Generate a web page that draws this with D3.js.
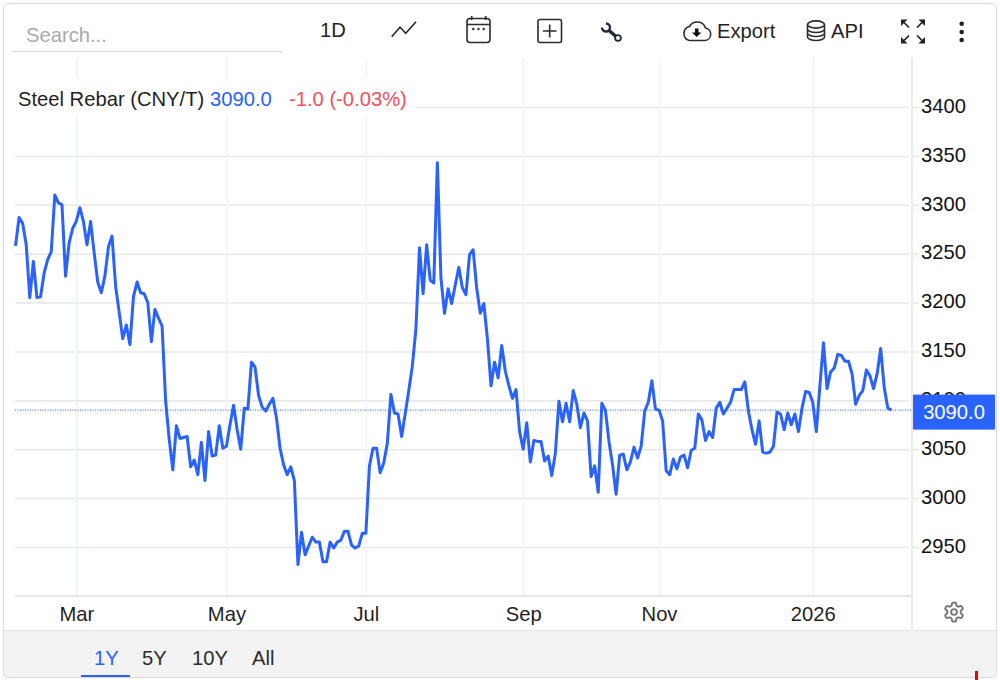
<!DOCTYPE html>
<html lang="en">

<head>
    <meta charset="UTF-8">
    <title>Steel Rebar</title>
    <script src="https://d3js.org/d3.v7.min.js"></script>
    <style>
        html, body { margin: 0; padding: 0; background: white; }
        svg { display: block; }
        text { font-family: "Liberation Sans", Arial, sans-serif; font-size: 20.2px; fill: #1f1f1f; }
        .grid-x line { stroke: #eef3f8; stroke-width: 1.5px; }
        .grid-y line { stroke: #e8e8e8; stroke-width: 1.5px; }
        .grid-x path, .grid-y path, .axis-x path, .axis-x line, .axis-y path { display: none; }
        .axis-y line { stroke: #e6e6e6; stroke-width: 1.5px; }
        .icon { fill: none; stroke: #2b2b2b; stroke-width: 1.6px; }
    </style>
</head>

<body>
    <svg width="1000" height="680"></svg>

    <script>
        const title = "Steel Rebar (CNY/T)";
        const lastLabel = "3090.0";
        const changeLabel = "-1.0 (-0.03%)";
        const monthLabels = ["Mar", "May", "Jul", "Sep", "Nov", "2026"];
        const monthIndex = [17, 59, 98, 142, 180, 223];
        const yTicks = [2950, 3000, 3050, 3100, 3150, 3200, 3250, 3300, 3350, 3400];
        const ranges = ["1Y", "5Y", "10Y", "All"];
        // daily closes
        const prices = [
            3258, 3287, 3281, 3259, 3205, 3242, 3205, 3206, 3230, 3244, 3252, 3310, 3302, 3300, 3227, 3261,
            3276, 3283, 3297, 3283, 3259, 3283, 3251, 3221, 3210, 3227, 3257, 3268, 3217, 3190, 3163, 3177,
            3157, 3206, 3221, 3210, 3209, 3200, 3160, 3193, 3184, 3176, 3099, 3060, 3029, 3074, 3061, 3062,
            3063, 3032, 3039, 3024, 3057, 3018, 3068, 3043, 3044, 3074, 3051, 3053, 3075, 3095, 3070, 3050,
            3092, 3091, 3139, 3134, 3105, 3093, 3089, 3096, 3102, 3082, 3051, 3034, 3024, 3032, 3018, 2932,
            2965, 2942, 2951, 2960, 2955, 2955, 2935, 2935, 2955, 2949, 2955, 2957, 2966, 2966, 2952, 2949,
            2951, 2964, 2964, 3033, 3051, 3051, 3026, 3036, 3056, 3106, 3087, 3086, 3063, 3086, 3110, 3135,
            3173, 3256, 3209, 3259, 3223, 3220, 3343, 3225, 3189, 3214, 3199, 3218, 3236, 3215, 3208, 3249,
            3254, 3215, 3189, 3199, 3163, 3115, 3139, 3123, 3156, 3130, 3115, 3102, 3111, 3068, 3050, 3077,
            3037, 3059, 3058, 3058, 3038, 3043, 3023, 3046, 3099, 3078, 3097, 3078, 3110, 3096, 3072, 3087,
            3079, 3022, 3033, 3006, 3097, 3090, 3058, 3034, 3004, 3044, 3045, 3029, 3037, 3052, 3041, 3053,
            3089, 3098, 3120, 3091, 3090, 3079, 3028, 3024, 3040, 3030, 3042, 3044, 3031, 3049, 3051, 3086,
            3080, 3059, 3068, 3062, 3092, 3098, 3086, 3092, 3098, 3111, 3111, 3111, 3119, 3089, 3070, 3055,
            3079, 3047, 3046, 3047, 3053, 3088, 3086, 3070, 3087, 3075, 3086, 3068, 3092, 3109, 3108, 3098,
            3068, 3115, 3159, 3112, 3129, 3133, 3147, 3146, 3140, 3140, 3127, 3096, 3105, 3110, 3131, 3125,
            3112, 3127, 3153, 3113, 3092, 3090
        ];

        const blue = "#2962ff";
        const svg = d3.select("svg");

        const x = d3.scaleLinear().domain([0, prices.length - 1]).range([15.5, 891.4]);
        const y = d3.scaleLinear().domain([2950, 3400]).range([547, 107]);

        // footer goes first so the frame sits on top of it
        svg.append("rect").attr("x", 3.5).attr("y", 630).attr("width", 993).attr("height", 47).attr("fill", "#f3f3f3");
        svg.append("line").attr("x1", 3).attr("x2", 997).attr("y1", 630.5).attr("y2", 630.5).attr("stroke", "#e6e6e6");

        // grid
        svg.append("g").attr("class", "grid-y")
            .attr("transform", "translate(15,0)")
            .call(d3.axisRight(y).tickValues(yTicks).tickSize(894).tickFormat(""));
        svg.append("g").attr("class", "grid-x")
            .attr("transform", "translate(0,58)")
            .call(d3.axisBottom(x).tickValues(monthIndex).tickSize(537).tickFormat(""));

        // white panel behind the legend
        svg.append("rect").attr("x", 15).attr("y", 78).attr("width", 400).attr("height", 38).attr("fill", "white");

        svg.append("line").attr("x1", 912).attr("x2", 912).attr("y1", 58).attr("y2", 630)
            .attr("stroke", "#e6e6e6").attr("stroke-width", 1.5);
        svg.append("line").attr("x1", 15).attr("x2", 912).attr("y1", 596).attr("y2", 596)
            .attr("stroke", "#e6e6e6").attr("stroke-width", 2);

        // axes
        const axisY = svg.append("g").attr("class", "axis-y")
            .attr("transform", "translate(912,0)")
            .call(d3.axisRight(y).tickValues(yTicks).tickSize(6).tickPadding(3).tickFormat(d3.format("d")));
        axisY.selectAll("text").attr("dy", "0.26em").style("fill", "#111");

        svg.append("g").attr("class", "axis-x")
            .attr("transform", "translate(0,596)")
            .call(d3.axisBottom(x).tickValues(monthIndex).tickSize(0).tickPadding(11)
                .tickFormat((d, i) => monthLabels[i]));

        // price line
        const line = d3.line().x((d, i) => x(i)).y(d => y(d));
        svg.append("path").datum(prices)
            .attr("fill", "none")
            .attr("stroke", blue)
            .attr("stroke-width", 3)
            .attr("stroke-linejoin", "round")
            .attr("d", line);

        // last value marker
        const lastY = y(prices[prices.length - 1]);
        svg.append("line").attr("x1", 15).attr("x2", 912).attr("y1", lastY).attr("y2", lastY)
            .attr("stroke", blue).attr("stroke-width", 1).attr("stroke-dasharray", "1,1.5");
        svg.append("rect").attr("x", 913).attr("y", lastY - 15.5).attr("width", 82).attr("height", 35).attr("fill", blue);
        svg.append("text").attr("x", 954).attr("y", lastY + 9).attr("text-anchor", "middle")
            .style("fill", "white").text(lastLabel);

        // legend
        svg.append("text").attr("x", 18).attr("y", 106).text(title);
        svg.append("text").attr("x", 210).attr("y", 106).style("fill", blue).text(lastLabel);
        svg.append("text").attr("x", 289).attr("y", 106).style("fill", "#f2505a").text(changeLabel);

        // toolbar
        svg.append("text").attr("x", 26).attr("y", 42).style("fill", "#aaa").text("Search...");
        svg.append("line").attr("x1", 12).attr("x2", 282).attr("y1", 51.5).attr("y2", 51.5).attr("stroke", "#d9d9d9");
        svg.append("text").attr("x", 320).attr("y", 37).text("1D");
        svg.append("text").attr("x", 717).attr("y", 38).text("Export");
        svg.append("text").attr("x", 831).attr("y", 38).text("API");

        const icons = svg.append("g").attr("class", "icon");
        icons.append("path").attr("d", "M391.7,36.7L400,27.3L405.7,33.3L416,21.7");
        // calendar
        icons.append("rect").attr("x", 467).attr("y", 18.5).attr("width", 23).attr("height", 24).attr("rx", 3);
        icons.append("path").attr("d", "M467,24.5H490M471.7,16V20M485.7,16V20");
        [473.3, 478.5, 483.7].forEach(cx => {
            icons.append("circle").attr("cx", cx).attr("cy", 29).attr("r", 1.2).attr("fill", "#2b2b2b").attr("stroke", "none");
        });
        // plus box
        icons.append("rect").attr("x", 538).attr("y", 19.5).attr("width", 23.5).attr("height", 23).attr("rx", 2);
        icons.append("path").attr("d", "M549.7,24.5V37.5M543,31H556.5");
        // wrench
        icons.append("path").attr("d", "M608.5,30L616,36.5").style("stroke-width", "3.2px").style("stroke", "#1f2a36");
        icons.append("path").attr("d", "M606,23.5A4,4 0 1 1 602,27.5").style("stroke-width", "2.4px").style("stroke", "#1f2a36");
        icons.append("circle").attr("cx", 618).attr("cy", 38).attr("r", 2.9).style("stroke", "#1f2a36").style("stroke-width", "1.8px");
        // cloud
        icons.append("path").attr("d", "M689.5,40.5H704.5A6.3,6.3 0 0 0 705.5,28A8.8,8.8 0 0 0 689.5,26.5A7.2,7.2 0 0 0 689.5,40.5Z");
        icons.append("path").attr("d", "M695,28.5H698.5V32.5H701.5L696.7,37L692,32.5H695Z").style("fill", "#111").style("stroke", "none");
        // database
        icons.append("ellipse").attr("cx", 816).attr("cy", 24.5).attr("rx", 8.5).attr("ry", 3.6);
        icons.append("path").attr("d", "M807.5,24.5V37C807.5,39 811.5,40.5 816,40.5C820.5,40.5 824.5,39 824.5,37V24.5M807.5,29C807.5,31 811.5,32.5 816,32.5C820.5,32.5 824.5,31 824.5,29M807.5,33C807.5,35 811.5,36.5 816,36.5C820.5,36.5 824.5,35 824.5,33");
        // fullscreen arrows
        const arrows = svg.append("g");
        [[901, 19.5, 1, 1], [925, 19.5, -1, 1], [901, 43.5, 1, -1], [925, 43.5, -1, -1]].forEach(([ax, ay, sx, sy]) => {
            arrows.append("path").attr("fill", "#222")
                .attr("d", `M${ax},${ay}h${sx * 6.5}l${-sx * 6.5},${sy * 6.5}z`);
            arrows.append("path").attr("stroke", "#222").attr("stroke-width", 1.7)
                .attr("d", `M${ax + sx * 3},${ay + sy * 3}L${ax + sx * 8},${ay + sy * 8}`);
        });
        // menu dots
        [23.7, 32, 40].forEach(cy => {
            svg.append("circle").attr("cx", 961.7).attr("cy", cy).attr("r", 2.3).attr("fill", "#222");
        });

        // settings gear
        const gear = svg.append("g").attr("transform", "translate(942.5,600.5) scale(0.96)")
            .attr("fill", "none").attr("stroke", "#777").attr("stroke-width", 2);
        gear.append("path").attr("d", "M12.22 2h-.44a2 2 0 0 0-2 2v.18a2 2 0 0 1-1 1.73l-.43.25a2 2 0 0 1-2 0l-.15-.08a2 2 0 0 0-2.73.73l-.22.38a2 2 0 0 0 .73 2.73l.15.1a2 2 0 0 1 1 1.72v.51a2 2 0 0 1-1 1.74l-.15.09a2 2 0 0 0-.73 2.73l.22.38a2 2 0 0 0 2.73.73l.15-.08a2 2 0 0 1 2 0l.43.25a2 2 0 0 1 1 1.73V20a2 2 0 0 0 2 2h.44a2 2 0 0 0 2-2v-.18a2 2 0 0 1 1-1.73l.43-.25a2 2 0 0 1 2 0l.15.08a2 2 0 0 0 2.73-.73l.22-.39a2 2 0 0 0-.73-2.73l-.15-.08a2 2 0 0 1-1-1.74v-.5a2 2 0 0 1 1-1.74l.15-.09a2 2 0 0 0 .73-2.73l-.22-.38a2 2 0 0 0-2.73-.73l-.15.08a2 2 0 0 1-2 0l-.43-.25a2 2 0 0 1-1-1.73V4a2 2 0 0 0-2-2z");
        gear.append("circle").attr("cx", 12).attr("cy", 12).attr("r", 3);

        // range buttons
        const rangeX = [94, 142, 192, 252];
        ranges.forEach((r, i) => {
            svg.append("text").attr("x", rangeX[i]).attr("y", 665)
                .style("fill", i === 0 ? blue : "#2b2b2b").text(r);
        });
        svg.append("rect").attr("x", 81).attr("y", 675).attr("width", 49).attr("height", 2).attr("fill", blue);

        // frame
        svg.append("rect").attr("x", 3.5).attr("y", 3.5).attr("width", 993).attr("height", 674).attr("rx", 5)
            .attr("fill", "none").attr("stroke", "#d9d9d9");
        svg.append("rect").attr("x", 975).attr("y", 671).attr("width", 3).attr("height", 9).attr("fill", "#f00000");
    </script>
</body>

</html>
